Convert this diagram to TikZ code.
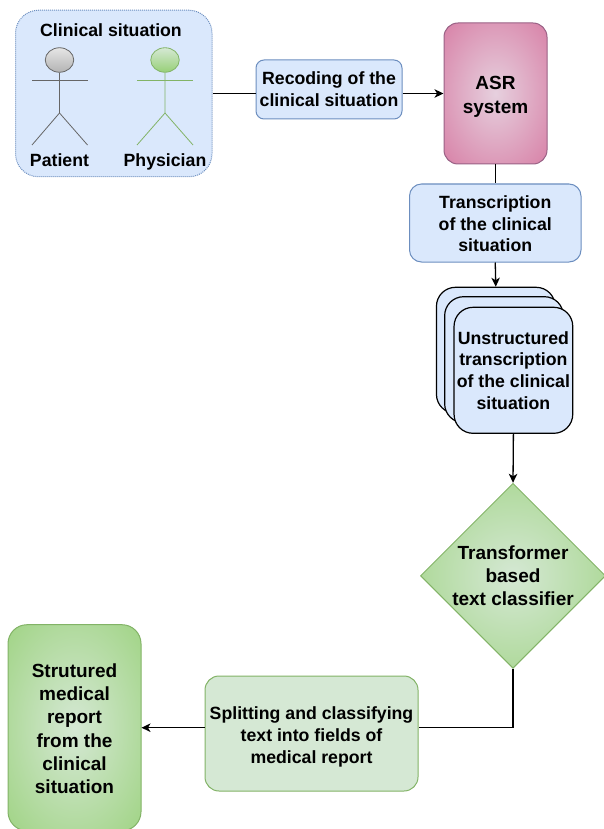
\documentclass[tikz,border=0pt]{standalone}
\usepackage{fontspec}
\setmainfont{Liberation Sans}
\usetikzlibrary{shapes.geometric, arrows.meta}
\definecolor{bluefill}{HTML}{dae8fc}
\definecolor{bluestroke}{HTML}{6c8ebf}
\definecolor{greenfill}{HTML}{d5e8d4}
\definecolor{greenmid}{HTML}{97d077}
\definecolor{greenstroke}{HTML}{82b366}
\definecolor{pinkfill}{HTML}{e6d0de}
\definecolor{pinkmid}{HTML}{d5739d}
\definecolor{pinkstroke}{HTML}{996185}
\definecolor{greyfill}{HTML}{e6e6e6}
\definecolor{greymid}{HTML}{b3b3b3}
\definecolor{greystroke}{HTML}{666666}
\pgfdeclareradialshading{pinkglow}{\pgfpointorigin}{color(0bp)=(pinkfill); color(42bp)=(pinkmid); color(100bp)=(pinkmid)}
\pgfdeclareradialshading{greenglow}{\pgfpointorigin}{color(0bp)=(greenfill); color(42bp)=(greenmid); color(100bp)=(greenmid)}
\newcommand{\firstline}[1]{\rule{0pt}{#1}}
\tikzset{
    box/.style = {draw, rectangle, align = center, line width = 1pt, font = \fontsize{17.7}{21.7}\selectfont\bfseries},
    bigbox/.style = {box, font = \fontsize{19}{23.3}\selectfont\bfseries},
    bluebox/.style = {box, fill = bluefill, draw = bluestroke},
    stackbox/.style = {box, fill = bluefill, draw = black, line width = 1.2pt, minimum width = 118.7pt, minimum height = 126pt, rounded corners = 19pt},
    caption/.style = {font = \fontsize{17.7}{21.5}\selectfont\bfseries, inner sep = 0pt, text height = 13pt, text depth = 4pt},
    link/.style = {line width = 1.3pt, color = black, > = {Stealth[length = 9pt, width = 8.5pt, inset = 2.5pt]}},
    limb/.style = {line width = 0.8pt}
}

\begin{document}
\begin{tikzpicture}
        \useasboundingbox (0pt, 0pt) rectangle (603pt, -829pt);

        % Nodes
        \node [bluebox, draw = bluestroke, densely dotted, minimum width = 196.5pt, minimum height = 166.5pt, rounded corners = 23pt] (clinical) at (113.75pt, -93.5pt) {};
        \node [bluebox, minimum width = 146pt, minimum height = 59pt, rounded corners = 8pt] (recoding) at (329pt, -89.5pt) {Recoding of the\\clinical situation};
        \node [bigbox, font = \fontsize{19}{24}\selectfont\bfseries, shade, shading = pinkglow, draw = pinkstroke, minimum width = 103pt, minimum height = 141pt, rounded corners = 14pt] (asr) at (495.5pt, -93.5pt) {\firstline{20pt}ASR\\system};
        \node [bluebox, minimum width = 171.5pt, minimum height = 78pt, rounded corners = 12pt] (transcription) at (495.25pt, -223pt) {\firstline{14.5pt}Transcription\\of the clinical\\situation};
        \node [stackbox] (stackback) at (495.8pt, -350.3pt) {};
        \node [stackbox] (stackmid) at (504pt, -359.7pt) {};
        \node [stackbox, inner sep = 0pt] (stackfront) at (513.4pt, -370.3pt) {Unstructured\\transcription\\of the clinical\\situation};
        \node [bigbox, diamond, shade, shading = greenglow, draw = greenstroke, inner sep = -5pt, minimum width = 185pt, minimum height = 185pt] (classifier) at (513pt, -575.8pt) {Transformer\\based\\text classifier};
        \node [box, font = \fontsize{17.7}{22}\selectfont\bfseries, fill = greenfill, draw = greenstroke, minimum width = 213pt, minimum height = 115pt, rounded corners = 14pt] (splitting) at (311.5pt, -733.5pt) {\firstline{19pt}Splitting and classifying\\text into fields of\\medical report};
        \node [bigbox, shade, shading = greenglow, draw = greenstroke, minimum width = 133pt, minimum height = 206pt, rounded corners = 19pt] (report) at (74.5pt, -727.7pt) {\firstline{16pt}Strutured\\medical\\report\\from the\\clinical\\situation};

        % Actors
        \node [caption] (title) at (111pt, -32pt) {Clinical situation};
        \node [draw = greystroke, ellipse, top color = greyfill, bottom color = greymid, line width = 0.8pt, inner sep = 0pt, minimum width = 28.5pt, minimum height = 24.5pt] (patienthead) at (59.5pt, -60pt) {};
        \node [caption] (patient) at (59.5pt, -162pt) {Patient};
        \draw [limb, color = greystroke] (patienthead.south) -- (59.5pt, -113pt) -- (32pt, -145pt);
        \draw [limb, color = greystroke] (59.5pt, -113pt) -- (87.5pt, -145pt);
        \draw [limb, color = greystroke] (32pt, -80pt) -- (87.5pt, -80pt);
        \node [draw = greenstroke, ellipse, top color = greenfill, bottom color = greenmid, line width = 0.8pt, inner sep = 0pt, minimum width = 28.5pt, minimum height = 24.5pt] (physicianhead) at (165pt, -60pt) {};
        \node [caption] (physician) at (165pt, -162pt) {Physician};
        \draw [limb, color = greenstroke] (physicianhead.south) -- (165pt, -113pt) -- (137pt, -145pt);
        \draw [limb, color = greenstroke] (165pt, -113pt) -- (193pt, -145pt);
        \draw [limb, color = greenstroke] (137pt, -80pt) -- (193pt, -80pt);

        % Draw the links
        \draw [link] (clinical.east) -- (clinical.east -| recoding.west);
        \draw [->, link] (recoding.east |- asr.west) -- (asr.west);
        \draw [link] (asr.south) -- (transcription.north -| asr.south);
        \draw [->, link] (transcription.south) -- (stackback.north);
        \draw [->, link] (stackfront.south) -- (classifier.north);
        \draw [link] (classifier.south) |- (splitting.east |- report.east);
        \draw [->, link] (splitting.west |- report.east) -- (report.east);

\end{tikzpicture}
\end{document}
